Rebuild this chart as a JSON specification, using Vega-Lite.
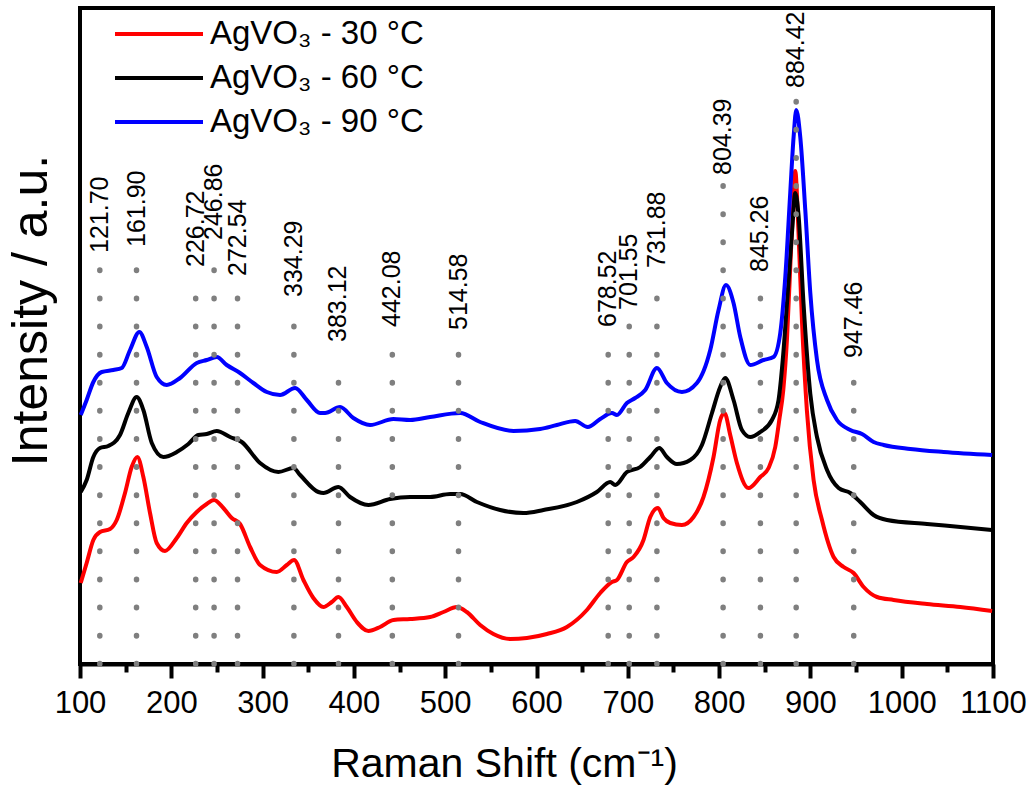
{
  "$schema": "https://vega.github.io/schema/vega-lite/v6.json",
  "width": 913,
  "height": 656,
  "autosize": {"type": "none"},
  "padding": {"left": 80, "top": 8, "right": 43, "bottom": 127},
  "config": {
    "font": "Liberation Sans",
    "view": {"stroke": "#000000", "strokeWidth": 4},
    "axis": {"grid": false}
  },
  "datasets": {
    "spectra": [
      {"series": "AgVO₃ - 30 °C", "x": 100.8, "y": 81}, {"series": "AgVO₃ - 30 °C", "x": 107.3, "y": 101}, {"series": "AgVO₃ - 30 °C", "x": 114.6, "y": 124}, {"series": "AgVO₃ - 30 °C", "x": 121.9, "y": 132}, {"series": "AgVO₃ - 30 °C", "x": 132.9, "y": 135}, {"series": "AgVO₃ - 30 °C", "x": 140.2, "y": 144}, {"series": "AgVO₃ - 30 °C", "x": 149.3, "y": 171}, {"series": "AgVO₃ - 30 °C", "x": 156.6, "y": 197}, {"series": "AgVO₃ - 30 °C", "x": 162.8, "y": 207}, {"series": "AgVO₃ - 30 °C", "x": 169.4, "y": 187}, {"series": "AgVO₃ - 30 °C", "x": 176.7, "y": 151}, {"series": "AgVO₃ - 30 °C", "x": 184.0, "y": 121}, {"series": "AgVO₃ - 30 °C", "x": 193.1, "y": 113}, {"series": "AgVO₃ - 30 °C", "x": 206.0, "y": 126}, {"series": "AgVO₃ - 30 °C", "x": 216.9, "y": 141}, {"series": "AgVO₃ - 30 °C", "x": 227.9, "y": 152}, {"series": "AgVO₃ - 30 °C", "x": 238.8, "y": 160}, {"series": "AgVO₃ - 30 °C", "x": 246.8, "y": 164}, {"series": "AgVO₃ - 30 °C", "x": 257.0, "y": 156}, {"series": "AgVO₃ - 30 °C", "x": 266.2, "y": 146}, {"series": "AgVO₃ - 30 °C", "x": 275.3, "y": 140}, {"series": "AgVO₃ - 30 °C", "x": 286.3, "y": 117}, {"series": "AgVO₃ - 30 °C", "x": 297.2, "y": 99}, {"series": "AgVO₃ - 30 °C", "x": 315.5, "y": 92}, {"series": "AgVO₃ - 30 °C", "x": 326.5, "y": 99}, {"series": "AgVO₃ - 30 °C", "x": 334.5, "y": 104}, {"series": "AgVO₃ - 30 °C", "x": 344.7, "y": 84}, {"series": "AgVO₃ - 30 °C", "x": 355.6, "y": 66}, {"series": "AgVO₃ - 30 °C", "x": 366.6, "y": 57}, {"series": "AgVO₃ - 30 °C", "x": 375.8, "y": 62}, {"series": "AgVO₃ - 30 °C", "x": 383.0, "y": 67}, {"series": "AgVO₃ - 30 °C", "x": 392.2, "y": 57}, {"series": "AgVO₃ - 30 °C", "x": 403.2, "y": 42}, {"series": "AgVO₃ - 30 °C", "x": 415.9, "y": 33}, {"series": "AgVO₃ - 30 °C", "x": 428.7, "y": 37}, {"series": "AgVO₃ - 30 °C", "x": 443.3, "y": 44}, {"series": "AgVO₃ - 30 °C", "x": 461.6, "y": 45}, {"series": "AgVO₃ - 30 °C", "x": 483.5, "y": 47}, {"series": "AgVO₃ - 30 °C", "x": 498.1, "y": 52}, {"series": "AgVO₃ - 30 °C", "x": 512.7, "y": 57}, {"series": "AgVO₃ - 30 °C", "x": 523.7, "y": 52}, {"series": "AgVO₃ - 30 °C", "x": 538.3, "y": 39}, {"series": "AgVO₃ - 30 °C", "x": 552.8, "y": 30}, {"series": "AgVO₃ - 30 °C", "x": 571.2, "y": 25}, {"series": "AgVO₃ - 30 °C", "x": 589.5, "y": 26}, {"series": "AgVO₃ - 30 °C", "x": 611.4, "y": 30}, {"series": "AgVO₃ - 30 °C", "x": 633.3, "y": 37}, {"series": "AgVO₃ - 30 °C", "x": 655.2, "y": 54}, {"series": "AgVO₃ - 30 °C", "x": 669.8, "y": 71}, {"series": "AgVO₃ - 30 °C", "x": 682.6, "y": 82}, {"series": "AgVO₃ - 30 °C", "x": 688.1, "y": 84}, {"series": "AgVO₃ - 30 °C", "x": 699.0, "y": 102}, {"series": "AgVO₃ - 30 °C", "x": 706.3, "y": 107}, {"series": "AgVO₃ - 30 °C", "x": 717.2, "y": 124}, {"series": "AgVO₃ - 30 °C", "x": 724.6, "y": 147}, {"series": "AgVO₃ - 30 °C", "x": 733.0, "y": 156}, {"series": "AgVO₃ - 30 °C", "x": 739.1, "y": 146}, {"series": "AgVO₃ - 30 °C", "x": 746.5, "y": 141}, {"series": "AgVO₃ - 30 °C", "x": 759.3, "y": 139}, {"series": "AgVO₃ - 30 °C", "x": 772.0, "y": 147}, {"series": "AgVO₃ - 30 °C", "x": 782.9, "y": 167}, {"series": "AgVO₃ - 30 °C", "x": 793.9, "y": 207}, {"series": "AgVO₃ - 30 °C", "x": 801.2, "y": 244}, {"series": "AgVO₃ - 30 °C", "x": 805.9, "y": 251}, {"series": "AgVO₃ - 30 °C", "x": 812.2, "y": 229}, {"series": "AgVO₃ - 30 °C", "x": 819.5, "y": 201}, {"series": "AgVO₃ - 30 °C", "x": 832.2, "y": 176}, {"series": "AgVO₃ - 30 °C", "x": 845.1, "y": 187}, {"series": "AgVO₃ - 30 °C", "x": 854.2, "y": 196}, {"series": "AgVO₃ - 30 °C", "x": 861.5, "y": 217}, {"series": "AgVO₃ - 30 °C", "x": 865.9, "y": 244}, {"series": "AgVO₃ - 30 °C", "x": 870.3, "y": 274}, {"series": "AgVO₃ - 30 °C", "x": 874.3, "y": 324}, {"series": "AgVO₃ - 30 °C", "x": 878.7, "y": 413}, {"series": "AgVO₃ - 30 °C", "x": 881.6, "y": 467}, {"series": "AgVO₃ - 30 °C", "x": 883.4, "y": 493}, {"series": "AgVO₃ - 30 °C", "x": 887.0, "y": 431}, {"series": "AgVO₃ - 30 °C", "x": 890.8, "y": 342}, {"series": "AgVO₃ - 30 °C", "x": 896.2, "y": 253}, {"series": "AgVO₃ - 30 °C", "x": 903.5, "y": 184}, {"series": "AgVO₃ - 30 °C", "x": 912.7, "y": 144}, {"series": "AgVO₃ - 30 °C", "x": 925.4, "y": 107}, {"series": "AgVO₃ - 30 °C", "x": 936.4, "y": 97}, {"series": "AgVO₃ - 30 °C", "x": 947.3, "y": 91}, {"series": "AgVO₃ - 30 °C", "x": 958.3, "y": 77}, {"series": "AgVO₃ - 30 °C", "x": 973.0, "y": 67}, {"series": "AgVO₃ - 30 °C", "x": 991.1, "y": 64}, {"series": "AgVO₃ - 30 °C", "x": 1027.7, "y": 60}, {"series": "AgVO₃ - 30 °C", "x": 1064.2, "y": 57}, {"series": "AgVO₃ - 30 °C", "x": 1099.0, "y": 53},
      {"series": "AgVO₃ - 60 °C", "x": 100.8, "y": 172}, {"series": "AgVO₃ - 60 °C", "x": 107.3, "y": 184}, {"series": "AgVO₃ - 60 °C", "x": 114.6, "y": 207}, {"series": "AgVO₃ - 60 °C", "x": 121.9, "y": 216}, {"series": "AgVO₃ - 60 °C", "x": 131.0, "y": 218}, {"series": "AgVO₃ - 60 °C", "x": 143.8, "y": 229}, {"series": "AgVO₃ - 60 °C", "x": 152.9, "y": 251}, {"series": "AgVO₃ - 60 °C", "x": 162.1, "y": 267}, {"series": "AgVO₃ - 60 °C", "x": 169.4, "y": 254}, {"series": "AgVO₃ - 60 °C", "x": 178.6, "y": 221}, {"series": "AgVO₃ - 60 °C", "x": 191.3, "y": 207}, {"series": "AgVO₃ - 60 °C", "x": 206.0, "y": 212}, {"series": "AgVO₃ - 60 °C", "x": 218.7, "y": 220}, {"series": "AgVO₃ - 60 °C", "x": 229.6, "y": 229}, {"series": "AgVO₃ - 60 °C", "x": 238.8, "y": 230}, {"series": "AgVO₃ - 60 °C", "x": 249.8, "y": 233}, {"series": "AgVO₃ - 60 °C", "x": 264.4, "y": 227}, {"series": "AgVO₃ - 60 °C", "x": 277.2, "y": 222}, {"series": "AgVO₃ - 60 °C", "x": 297.2, "y": 201}, {"series": "AgVO₃ - 60 °C", "x": 317.3, "y": 192}, {"series": "AgVO₃ - 60 °C", "x": 333.7, "y": 196}, {"series": "AgVO₃ - 60 °C", "x": 341.1, "y": 189}, {"series": "AgVO₃ - 60 °C", "x": 361.1, "y": 172}, {"series": "AgVO₃ - 60 °C", "x": 366.6, "y": 171}, {"series": "AgVO₃ - 60 °C", "x": 383.0, "y": 177}, {"series": "AgVO₃ - 60 °C", "x": 395.8, "y": 167}, {"series": "AgVO₃ - 60 °C", "x": 415.9, "y": 159}, {"series": "AgVO₃ - 60 °C", "x": 439.7, "y": 165}, {"series": "AgVO₃ - 60 °C", "x": 461.6, "y": 167}, {"series": "AgVO₃ - 60 °C", "x": 483.5, "y": 167}, {"series": "AgVO₃ - 60 °C", "x": 505.4, "y": 170}, {"series": "AgVO₃ - 60 °C", "x": 516.4, "y": 170}, {"series": "AgVO₃ - 60 °C", "x": 534.7, "y": 162}, {"series": "AgVO₃ - 60 °C", "x": 560.2, "y": 154}, {"series": "AgVO₃ - 60 °C", "x": 585.7, "y": 151}, {"series": "AgVO₃ - 60 °C", "x": 607.6, "y": 154}, {"series": "AgVO₃ - 60 °C", "x": 644.2, "y": 162}, {"series": "AgVO₃ - 60 °C", "x": 666.1, "y": 172}, {"series": "AgVO₃ - 60 °C", "x": 680.7, "y": 182}, {"series": "AgVO₃ - 60 °C", "x": 686.2, "y": 179}, {"series": "AgVO₃ - 60 °C", "x": 699.0, "y": 192}, {"series": "AgVO₃ - 60 °C", "x": 713.6, "y": 197}, {"series": "AgVO₃ - 60 °C", "x": 724.6, "y": 207}, {"series": "AgVO₃ - 60 °C", "x": 734.4, "y": 216}, {"series": "AgVO₃ - 60 °C", "x": 742.8, "y": 207}, {"series": "AgVO₃ - 60 °C", "x": 753.8, "y": 200}, {"series": "AgVO₃ - 60 °C", "x": 768.4, "y": 204}, {"series": "AgVO₃ - 60 °C", "x": 781.2, "y": 219}, {"series": "AgVO₃ - 60 °C", "x": 792.2, "y": 251}, {"series": "AgVO₃ - 60 °C", "x": 801.2, "y": 277}, {"series": "AgVO₃ - 60 °C", "x": 806.7, "y": 286}, {"series": "AgVO₃ - 60 °C", "x": 815.8, "y": 264}, {"series": "AgVO₃ - 60 °C", "x": 825.0, "y": 234}, {"series": "AgVO₃ - 60 °C", "x": 834.1, "y": 227}, {"series": "AgVO₃ - 60 °C", "x": 845.1, "y": 232}, {"series": "AgVO₃ - 60 °C", "x": 857.9, "y": 244}, {"series": "AgVO₃ - 60 °C", "x": 865.1, "y": 264}, {"series": "AgVO₃ - 60 °C", "x": 869.7, "y": 304}, {"series": "AgVO₃ - 60 °C", "x": 874.3, "y": 360}, {"series": "AgVO₃ - 60 °C", "x": 879.8, "y": 431}, {"series": "AgVO₃ - 60 °C", "x": 883.4, "y": 471}, {"series": "AgVO₃ - 60 °C", "x": 887.0, "y": 449}, {"series": "AgVO₃ - 60 °C", "x": 892.5, "y": 360}, {"series": "AgVO₃ - 60 °C", "x": 899.9, "y": 270}, {"series": "AgVO₃ - 60 °C", "x": 907.2, "y": 227}, {"series": "AgVO₃ - 60 °C", "x": 918.2, "y": 194}, {"series": "AgVO₃ - 60 °C", "x": 930.9, "y": 176}, {"series": "AgVO₃ - 60 °C", "x": 943.7, "y": 171}, {"series": "AgVO₃ - 60 °C", "x": 954.6, "y": 162}, {"series": "AgVO₃ - 60 °C", "x": 969.2, "y": 149}, {"series": "AgVO₃ - 60 °C", "x": 983.9, "y": 144}, {"series": "AgVO₃ - 60 °C", "x": 1027.7, "y": 140}, {"series": "AgVO₃ - 60 °C", "x": 1064.2, "y": 137}, {"series": "AgVO₃ - 60 °C", "x": 1099.0, "y": 134},
      {"series": "AgVO₃ - 90 °C", "x": 100.8, "y": 249}, {"series": "AgVO₃ - 90 °C", "x": 107.3, "y": 264}, {"series": "AgVO₃ - 90 °C", "x": 114.6, "y": 282}, {"series": "AgVO₃ - 90 °C", "x": 123.8, "y": 292}, {"series": "AgVO₃ - 90 °C", "x": 136.5, "y": 294}, {"series": "AgVO₃ - 90 °C", "x": 145.7, "y": 296}, {"series": "AgVO₃ - 90 °C", "x": 154.8, "y": 314}, {"series": "AgVO₃ - 90 °C", "x": 165.0, "y": 332}, {"series": "AgVO₃ - 90 °C", "x": 173.1, "y": 317}, {"series": "AgVO₃ - 90 °C", "x": 184.0, "y": 287}, {"series": "AgVO₃ - 90 °C", "x": 195.0, "y": 279}, {"series": "AgVO₃ - 90 °C", "x": 209.6, "y": 286}, {"series": "AgVO₃ - 90 °C", "x": 227.9, "y": 301}, {"series": "AgVO₃ - 90 °C", "x": 238.8, "y": 304}, {"series": "AgVO₃ - 90 °C", "x": 249.8, "y": 307}, {"series": "AgVO₃ - 90 °C", "x": 260.7, "y": 299}, {"series": "AgVO₃ - 90 °C", "x": 275.3, "y": 291}, {"series": "AgVO₃ - 90 °C", "x": 289.9, "y": 281}, {"series": "AgVO₃ - 90 °C", "x": 304.6, "y": 272}, {"series": "AgVO₃ - 90 °C", "x": 319.1, "y": 269}, {"series": "AgVO₃ - 90 °C", "x": 335.6, "y": 276}, {"series": "AgVO₃ - 90 °C", "x": 348.4, "y": 264}, {"series": "AgVO₃ - 90 °C", "x": 362.9, "y": 251}, {"series": "AgVO₃ - 90 °C", "x": 368.4, "y": 251}, {"series": "AgVO₃ - 90 °C", "x": 384.9, "y": 257}, {"series": "AgVO₃ - 90 °C", "x": 399.4, "y": 246}, {"series": "AgVO₃ - 90 °C", "x": 417.7, "y": 239}, {"series": "AgVO₃ - 90 °C", "x": 443.3, "y": 245}, {"series": "AgVO₃ - 90 °C", "x": 461.6, "y": 244}, {"series": "AgVO₃ - 90 °C", "x": 483.5, "y": 247}, {"series": "AgVO₃ - 90 °C", "x": 516.4, "y": 251}, {"series": "AgVO₃ - 90 °C", "x": 538.3, "y": 242}, {"series": "AgVO₃ - 90 °C", "x": 574.8, "y": 233}, {"series": "AgVO₃ - 90 °C", "x": 604.0, "y": 235}, {"series": "AgVO₃ - 90 °C", "x": 622.3, "y": 239}, {"series": "AgVO₃ - 90 °C", "x": 642.4, "y": 243}, {"series": "AgVO₃ - 90 °C", "x": 656.1, "y": 237}, {"series": "AgVO₃ - 90 °C", "x": 669.8, "y": 245}, {"series": "AgVO₃ - 90 °C", "x": 682.6, "y": 251}, {"series": "AgVO₃ - 90 °C", "x": 688.1, "y": 249}, {"series": "AgVO₃ - 90 °C", "x": 699.0, "y": 261}, {"series": "AgVO₃ - 90 °C", "x": 708.1, "y": 266}, {"series": "AgVO₃ - 90 °C", "x": 719.1, "y": 274}, {"series": "AgVO₃ - 90 °C", "x": 731.9, "y": 296}, {"series": "AgVO₃ - 90 °C", "x": 742.8, "y": 281}, {"series": "AgVO₃ - 90 °C", "x": 759.3, "y": 272}, {"series": "AgVO₃ - 90 °C", "x": 775.7, "y": 281}, {"series": "AgVO₃ - 90 °C", "x": 790.3, "y": 314}, {"series": "AgVO₃ - 90 °C", "x": 799.4, "y": 354}, {"series": "AgVO₃ - 90 °C", "x": 807.5, "y": 379}, {"series": "AgVO₃ - 90 °C", "x": 815.8, "y": 361}, {"series": "AgVO₃ - 90 °C", "x": 823.2, "y": 327}, {"series": "AgVO₃ - 90 °C", "x": 834.1, "y": 299}, {"series": "AgVO₃ - 90 °C", "x": 848.7, "y": 304}, {"series": "AgVO₃ - 90 °C", "x": 859.6, "y": 307}, {"series": "AgVO₃ - 90 °C", "x": 867.0, "y": 331}, {"series": "AgVO₃ - 90 °C", "x": 872.5, "y": 387}, {"series": "AgVO₃ - 90 °C", "x": 877.9, "y": 471}, {"series": "AgVO₃ - 90 °C", "x": 881.6, "y": 527}, {"series": "AgVO₃ - 90 °C", "x": 884.5, "y": 554}, {"series": "AgVO₃ - 90 °C", "x": 888.9, "y": 527}, {"series": "AgVO₃ - 90 °C", "x": 894.4, "y": 454}, {"series": "AgVO₃ - 90 °C", "x": 899.9, "y": 371}, {"series": "AgVO₃ - 90 °C", "x": 907.2, "y": 304}, {"series": "AgVO₃ - 90 °C", "x": 918.2, "y": 264}, {"series": "AgVO₃ - 90 °C", "x": 929.1, "y": 244}, {"series": "AgVO₃ - 90 °C", "x": 943.7, "y": 234}, {"series": "AgVO₃ - 90 °C", "x": 956.5, "y": 230}, {"series": "AgVO₃ - 90 °C", "x": 969.2, "y": 222}, {"series": "AgVO₃ - 90 °C", "x": 980.2, "y": 219}, {"series": "AgVO₃ - 90 °C", "x": 1009.4, "y": 215}, {"series": "AgVO₃ - 90 °C", "x": 1045.9, "y": 212}, {"series": "AgVO₃ - 90 °C", "x": 1099.0, "y": 209}
    ],
    "peaks": [
      {"pos": 121.70, "label": "121.70", "base": 0, "top": 397, "ly": 411},
      {"pos": 161.90, "label": "161.90", "base": 0, "top": 398, "ly": 417},
      {"pos": 226.72, "label": "226.72", "base": 0, "top": 366, "ly": 397},
      {"pos": 246.86, "label": "246.86", "base": 0, "top": 396, "ly": 424},
      {"pos": 272.54, "label": "272.54", "base": 0, "top": 367, "ly": 388},
      {"pos": 334.29, "label": "334.29", "base": 0, "top": 340, "ly": 367},
      {"pos": 383.12, "label": "383.12", "base": 0, "top": 308, "ly": 322},
      {"pos": 442.08, "label": "442.08", "base": 0, "top": 312, "ly": 337},
      {"pos": 514.58, "label": "514.58", "base": 0, "top": 312, "ly": 334},
      {"pos": 678.52, "label": "678.52", "base": 0, "top": 313, "ly": 337},
      {"pos": 701.55, "label": "701.55", "base": 0, "top": 338, "ly": 354},
      {"pos": 731.88, "label": "731.88", "base": 0, "top": 368, "ly": 396},
      {"pos": 804.39, "label": "804.39", "base": 0, "top": 481, "ly": 489},
      {"pos": 845.26, "label": "845.26", "base": 0, "top": 368, "ly": 392},
      {"pos": 884.42, "label": "884.42", "base": 0, "top": 568, "ly": 576},
      {"pos": 947.46, "label": "947.46", "base": 0, "top": 283, "ly": 306}
    ]
  },
  "layer": [
    {
      "data": {"name": "spectra"},
      "mark": {"type": "line", "strokeWidth": 4, "interpolate": "monotone"},
      "encoding": {
        "x": {
          "field": "x", "type": "quantitative",
          "scale": {"domain": [100, 1100], "nice": false, "zero": false},
          "axis": {
            "values": [100, 150, 200, 250, 300, 350, 400, 450, 500, 550, 600, 650, 700, 750, 800, 850, 900, 950, 1000, 1050, 1100],
            "labelExpr": "datum.value % 100 === 0 ? datum.label : ''",
            "format": "d",
            "title": "Raman Shift (cm⁻¹)",
            "titleFontSize": 41,
            "titleFontWeight": "normal",
            "titleColor": "#000000",
            "titleX": 424,
            "titleY": 112,
            "titleAlign": "center",
            "titleBaseline": "alphabetic",
            "labelFontSize": 31,
            "labelColor": "#000000",
            "labelFlush": false,
            "labelOverlap": false,
            "labelPadding": 10,
            "tickSize": {"condition": {"test": "datum.value % 100 !== 0", "value": 8}, "value": 14},
            "tickWidth": 4,
            "tickColor": "#000000",
            "domainColor": "#000000",
            "domainWidth": 4,
            "grid": false
          }
        },
        "y": {
          "field": "y", "type": "quantitative",
          "scale": {"domain": [0, 656], "nice": false},
          "axis": {
            "title": "Intensity / a.u.",
            "titleFontSize": 50,
            "titleFontWeight": "normal",
            "titleColor": "#000000",
            "titleAngle": 270,
            "titleX": -34,
            "titleY": 302,
            "titleAlign": "center",
            "titleBaseline": "alphabetic",
            "labels": false,
            "ticks": false,
            "domain": false,
            "grid": false
          }
        },
        "color": {
          "field": "series", "type": "nominal",
          "scale": {"domain": ["AgVO₃ - 30 °C", "AgVO₃ - 60 °C", "AgVO₃ - 90 °C"], "range": ["#ff0000", "#000000", "#0000ff"]},
          "legend": {
            "title": null,
            "orient": "none",
            "legendX": 33,
            "legendY": 4,
            "symbolType": "stroke",
            "symbolSize": 7744,
            "symbolStrokeWidth": 4,
            "clipHeight": 44,
            "rowPadding": 0,
            "padding": 0,
            "labelFontSize": 33,
            "labelColor": "#000000",
            "labelOffset": 5,
            "labelLimit": 0
          }
        }
      }
    },
    {
      "data": {"name": "peaks"},
      "mark": {"type": "rule", "color": "#7f7f7f", "strokeWidth": 5.5, "strokeCap": "round", "strokeDash": [0.5, 27.6]},
      "encoding": {
        "x": {"field": "pos", "type": "quantitative"},
        "y": {"field": "base", "type": "quantitative"},
        "y2": {"field": "top"}
      }
    },
    {
      "data": {"name": "peaks"},
      "mark": {"type": "text", "angle": 270, "align": "left", "baseline": "middle", "fontSize": 25, "color": "#000000"},
      "encoding": {
        "x": {"field": "pos", "type": "quantitative"},
        "y": {"field": "ly", "type": "quantitative"},
        "text": {"field": "label"}
      }
    }
  ]
}
